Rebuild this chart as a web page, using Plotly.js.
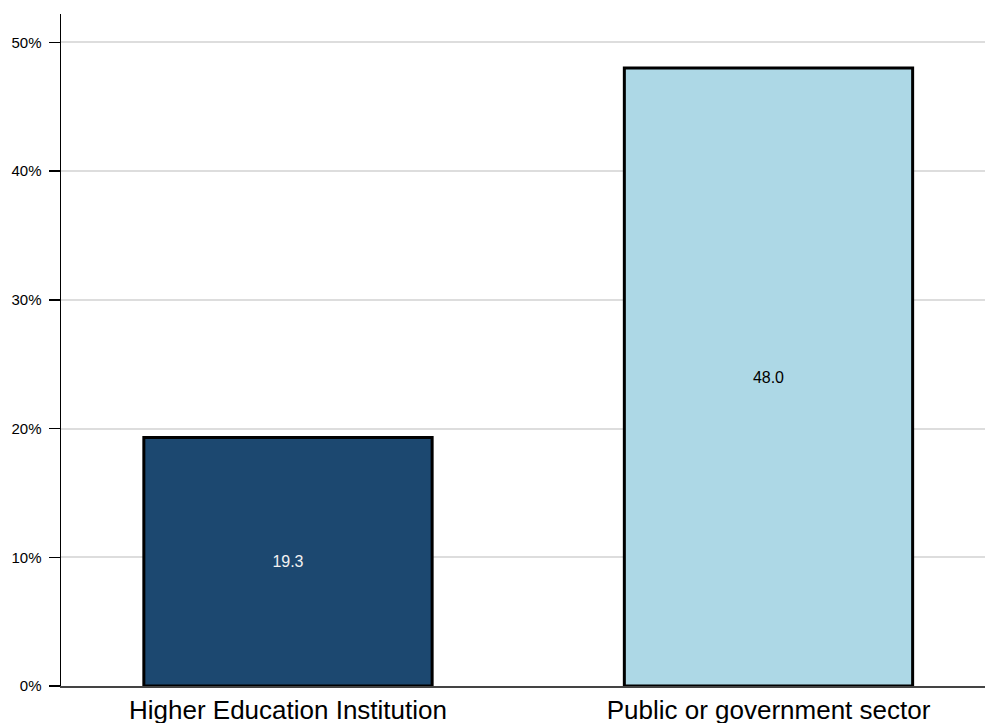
<!DOCTYPE html>
<html>
<head>
<meta charset="utf-8">
<script src="https://cdn.plot.ly/plotly-3.0.1.min.js"></script>
<style>html,body{margin:0;padding:0;background:#fff;}#chart{width:985px;height:723px;}</style>
</head>
<body>
<div id="chart"></div>
<script>
const categories = ["Higher Education Institution", "Public or government sector"];
const values = [19.3, 48.0];
const labels = ["19.3", "48.0"];
const barColors = ["#1c4870", "#add8e6"];
const textColors = ["#f2f2f2", "#000000"];

const trace = {
  type: "bar",
  x: [0, 1],
  y: values,
  width: 0.6,
  text: labels,
  textposition: "inside",
  insidetextanchor: "middle",
  textangle: 0,
  textfont: {family: "Liberation Sans, Arial, sans-serif", size: 16, color: textColors},
  marker: {color: barColors, line: {color: "#000000", width: 3}},
  hoverinfo: "skip"
};

const layout = {
  width: 985, height: 723,
  margin: {l: 61, r: 0, t: 14, b: 37, pad: 0},
  paper_bgcolor: "#ffffff",
  plot_bgcolor: "#ffffff",
  showlegend: false,
  font: {family: "Liberation Sans, Arial, sans-serif", color: "#000000"},
  xaxis: {
    range: [-0.4724, 1.4506],
    tickmode: "array",
    tickvals: [0, 1],
    ticktext: categories,
    tickfont: {size: 26, color: "#000000"},
    showgrid: false,
    zeroline: false,
    showline: true,
    linecolor: "#444444",
    linewidth: 1.5,
    ticks: "",
    automargin: false,
    fixedrange: true
  },
  yaxis: {
    range: [0, 52.2],
    dtick: 10,
    tick0: 0,
    ticksuffix: "%",
    tickfont: {size: 15, color: "#000000"},
    showgrid: true,
    gridcolor: "#dddddd",
    gridwidth: 2,
    zeroline: false,
    showline: true,
    linecolor: "#000000",
    linewidth: 1.5,
    ticks: "outside",
    ticklen: 11,
    tickcolor: "#000000",
    tickwidth: 1.5,
    ticklabelstandoff: 4,
    automargin: false,
    fixedrange: true
  }
};

Plotly.newPlot("chart", [trace], layout, {staticPlot: true, displayModeBar: false});
</script>
</body>
</html>
